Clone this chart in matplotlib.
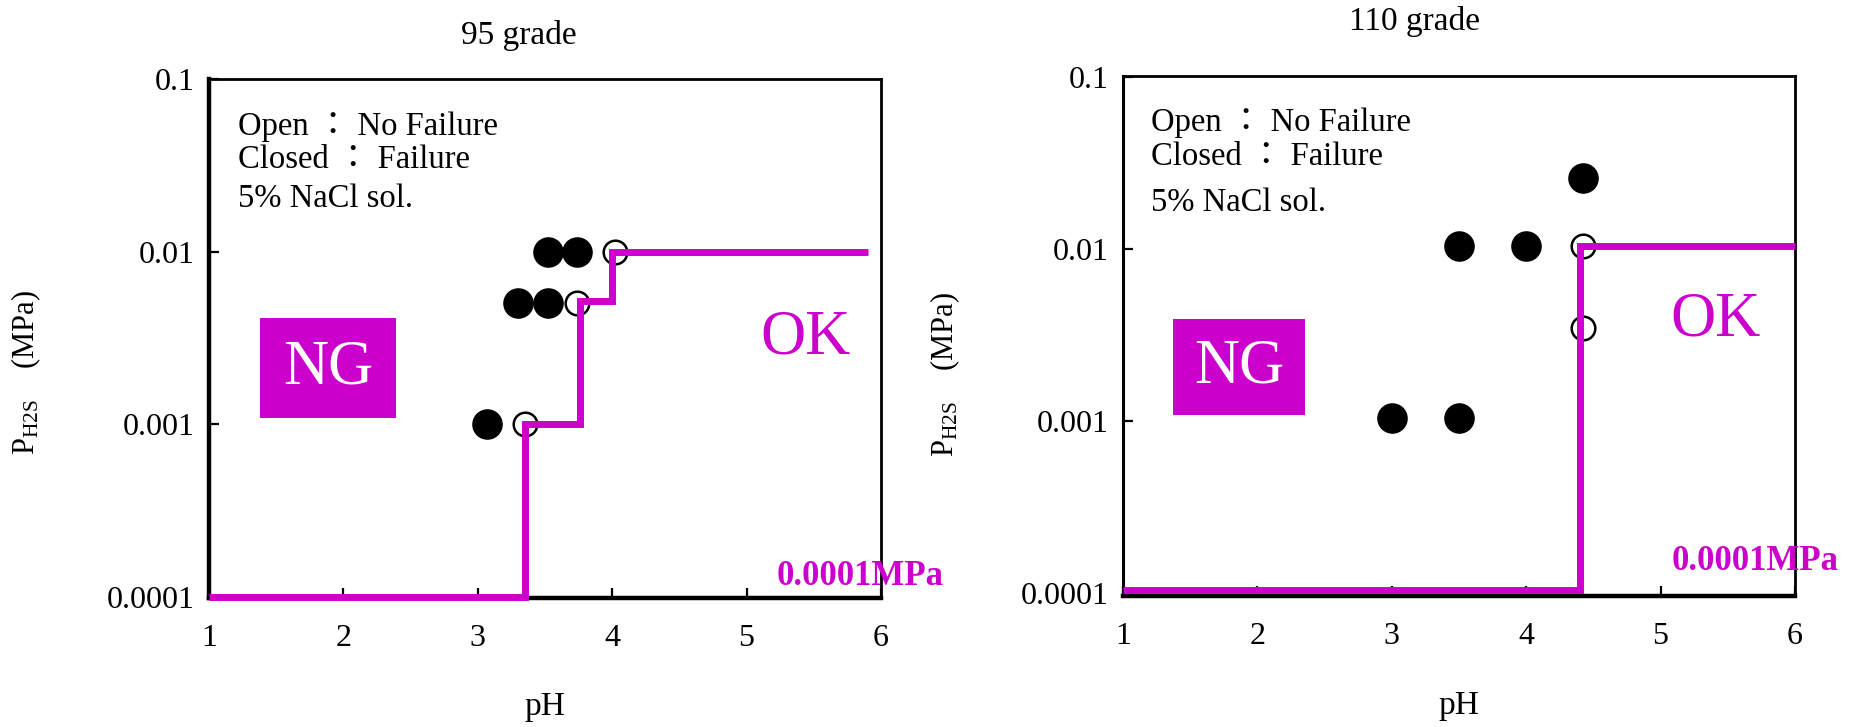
import matplotlib
matplotlib.use('Agg')
import matplotlib.pyplot as plt
from matplotlib.ticker import FixedLocator, MultipleLocator, LogLocator, NullFormatter, FixedFormatter
from matplotlib.patches import Rectangle

plt.rcParams['font.family'] = ['Liberation Serif', 'Noto Sans CJK JP', 'DejaVu Sans']
plt.rcParams['mathtext.fontset'] = 'custom'
plt.rcParams['mathtext.rm'] = 'Liberation Serif'
plt.rcParams['mathtext.it'] = 'Liberation Serif:italic'
plt.rcParams['mathtext.bf'] = 'Liberation Serif:bold'

MAGENTA = '#CC00CC'

# ---------------- data ----------------
titles = ['95 grade', '110 grade']
x_ticks = [1, 2, 3, 4, 5, 6]
y_ticks = [1e-4, 1e-3, 1e-2, 1e-1]
y_tick_labels = ['0.0001', '0.001', '0.01', '0.1']
notes = ['Open ： No Failure', 'Closed ： Failure', '5% NaCl sol.']
threshold_label = '0.0001MPa'

# 95 grade: failures (closed), no failure (open), limit line
g95_fail_ph = [3.52, 3.74, 3.30, 3.52, 3.07]
g95_fail_p = [0.01, 0.01, 0.005, 0.005, 0.001]
g95_ok_ph = [4.02, 3.74, 3.35]
g95_ok_p = [0.01, 0.005, 0.001]
g95_limit_ph = [1.0, 3.35, 3.35, 3.76, 3.76, 4.0, 4.0, 5.9]
g95_limit_p = [1e-4, 1e-4, 1e-3, 1e-3, 5.2e-3, 5.2e-3, 1e-2, 1e-2]

# 110 grade
g110_fail_ph = [3.0, 3.5, 3.5, 4.0, 4.42]
g110_fail_p = [0.00104, 0.00104, 0.0105, 0.0105, 0.026]
g110_ok_ph = [4.42, 4.42]
g110_ok_p = [0.0105, 0.0035]
g110_limit_ph = [1.0, 4.40, 4.40, 6.0]
g110_limit_p = [1.04e-4, 1.04e-4, 1.05e-2, 1.05e-2]

# ---------------- figure ----------------
fig = plt.figure(figsize=(18.61, 7.27), dpi=100)
ax1 = fig.add_axes([0.1123, 0.1774, 0.3611, 0.7139])
ax2 = fig.add_axes([0.6034, 0.1802, 0.3611, 0.7153])

panels = [
    dict(ax=ax1, fail=(g95_fail_ph, g95_fail_p), ok=(g95_ok_ph, g95_ok_p),
         lim=(g95_limit_ph, g95_limit_p), ylim=(0.98e-4, 0.1),
         box=(0.0759, 0.347, 0.202, 0.1925), ng=(0.177, 0.443), okpos=(0.888, 0.501),
         thr=(0.845, 0.042), note_x=0.043, note_y=[0.892, 0.8285, 0.753],
         ylab=(-0.272, 0.435), xlab=(0.5, -0.181), leftw=3.2),
    dict(ax=ax2, fail=(g110_fail_ph, g110_fail_p), ok=(g110_ok_ph, g110_ok_p),
         lim=(g110_limit_ph, g110_limit_p), ylim=(0.963e-4, 0.102),
         box=(0.0744, 0.348, 0.1966, 0.185), ng=(0.173, 0.440), okpos=(0.882, 0.529),
         thr=(0.817, 0.067), note_x=0.042, note_y=[0.894, 0.828, 0.740],
         ylab=(-0.265, 0.425), xlab=(0.5, -0.181), leftw=2.2),
]

for p in panels:
    ax = p['ax']
    ax.set_yscale('log')
    ax.set_xlim(1, 6)
    ax.set_ylim(*p['ylim'])

    ax.plot(p['fail'][0], p['fail'][1], linestyle='none', marker='o',
            markersize=21, markerfacecolor='black', markeredgecolor='black',
            zorder=3, clip_on=False)
    ax.plot(p['ok'][0], p['ok'][1], linestyle='none', marker='o',
            markersize=17, markerfacecolor='white', markeredgecolor='black',
            markeredgewidth=1.8, zorder=3, clip_on=False)
    ax.plot(p['lim'][0], p['lim'][1], color=MAGENTA, linewidth=5,
            solid_joinstyle='miter', solid_capstyle='butt', zorder=4, clip_on=False)

    # ticks
    ax.xaxis.set_major_locator(FixedLocator(x_ticks))
    ax.xaxis.set_minor_locator(MultipleLocator(0.25))
    ax.set_xticklabels([str(v) for v in x_ticks])
    ax.yaxis.set_major_locator(FixedLocator(y_ticks))
    ax.yaxis.set_major_formatter(FixedFormatter(y_tick_labels))
    ax.yaxis.set_minor_locator(LogLocator(base=10, subs=range(2, 10)))
    ax.yaxis.set_minor_formatter(NullFormatter())
    ax.tick_params(which='major', direction='in', length=7, width=1.6,
                   labelsize=23, top=False, right=False)
    ax.tick_params(axis='x', which='major', pad=19)
    ax.tick_params(axis='y', which='major', pad=10)
    ax.tick_params(which='minor', direction='in', length=1.6, width=1.6,
                   top=False, right=False)

    for side in ['top', 'right']:
        ax.spines[side].set_linewidth(2.0)
    ax.spines['bottom'].set_linewidth(3.2)
    ax.spines['left'].set_linewidth(p['leftw'])

    # NG box
    bx, by, bw, bh = p['box']
    ax.add_patch(Rectangle((bx, by), bw, bh, transform=ax.transAxes,
                           facecolor=MAGENTA, edgecolor='none', zorder=2))
    ax.text(p['ng'][0], p['ng'][1], 'NG', transform=ax.transAxes, color='white',
            fontsize=45, ha='center', va='center', zorder=3)
    ax.text(p['okpos'][0], p['okpos'][1], 'OK', transform=ax.transAxes,
            color=MAGENTA, fontsize=45, ha='center', va='center')
    ax.text(p['thr'][0], p['thr'][1], threshold_label, transform=ax.transAxes,
            color=MAGENTA, fontsize=25, fontweight='bold', ha='left',
            va='center', zorder=5)

    for t, yy in zip(notes, p['note_y']):
        ax.text(p['note_x'], yy, t, transform=ax.transAxes, fontsize=23.5,
                ha='left', va='baseline')

    ax.set_xlabel('pH', fontsize=24)
    ax.xaxis.set_label_coords(*p['xlab'])
    ax.set_ylabel(r'P$_{\mathrm{H2S}}$    (MPa)', fontsize=22)
    ax.yaxis.label.set_verticalalignment('center')
    ax.yaxis.set_label_coords(*p['ylab'])

fig.text(0.2789, 0.9505, titles[0], fontsize=24, ha='center', va='center')
fig.text(0.7600, 0.9710, titles[1], fontsize=24, ha='center', va='center')

fig.savefig('out.png', dpi=100)
